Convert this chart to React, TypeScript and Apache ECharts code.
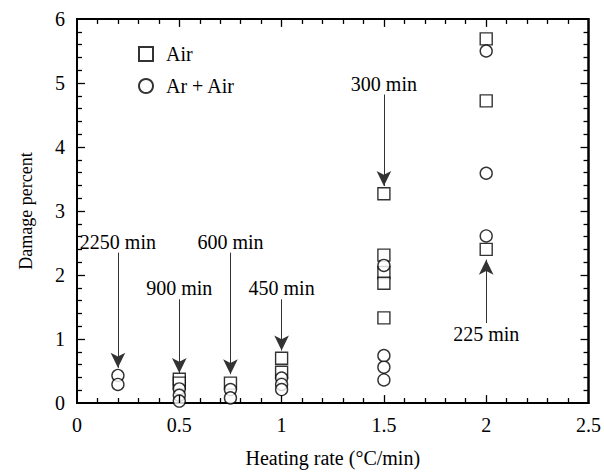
import React, { useEffect, useRef } from "react";
import * as echarts from "echarts";

const airX = [0.5, 0.5, 0.75, 1, 1, 1.5, 1.5, 1.5, 1.5, 1.5, 2, 2, 2];
const airY = [0.37, 0.31, 0.31, 0.7, 0.48, 3.27, 2.31, 2.04, 1.87, 1.33, 5.69, 4.72, 2.4];

const arAirX = [0.2, 0.2, 0.5, 0.5, 0.5, 0.75, 0.75, 1, 1, 1, 1.5, 1.5, 1.5, 1.5, 2, 2, 2];
const arAirY = [0.43, 0.29, 0.22, 0.12, 0.03, 0.21, 0.08, 0.39, 0.29, 0.21, 2.15, 0.74, 0.56, 0.36, 5.5, 3.59, 2.61];

const arrowLabels = ["2250 min", "900 min", "600 min", "450 min", "300 min", "225 min"];
const arrowX = [0.2, 0.5, 0.75, 1, 1.5, 2];
const arrowFrom = [2.35, 1.62, 2.35, 1.62, 4.82, 1.25];
const arrowTo = [0.55, 0.47, 0.45, 0.82, 3.39, 2.24];

const X_MIN = 0, X_MAX = 2.5, X_MAJOR = 0.5, X_MINOR_SPLIT = 5;
const Y_MIN = 0, Y_MAX = 6, Y_MAJOR = 1, Y_MINOR_SPLIT = 5;

const FONT = "Liberation Serif";

export default function App() {
  const ref = useRef<HTMLDivElement>(null);
  useEffect(() => {
    if (!ref.current) return;
    const chart = echarts.init(ref.current, null, { renderer: "svg" });
    const pair = (xs: number[], ys: number[]) => xs.map((x, i) => [x, ys[i]]);

    // tick marks as markLine segments (axis decoration derived from axis settings)
    const tickLines: any[] = [];
    const xSteps = Math.round(((X_MAX - X_MIN) / X_MAJOR) * X_MINOR_SPLIT);
    const ySteps = Math.round(((Y_MAX - Y_MIN) / Y_MAJOR) * Y_MINOR_SPLIT);
    const yLenMajor = ((Y_MAX - Y_MIN) * 8) / 388;
    const yLenMinor = ((Y_MAX - Y_MIN) * 5) / 388;
    const xLenMajor = ((X_MAX - X_MIN) * 8) / 514;
    const xLenMinor = ((X_MAX - X_MIN) * 5) / 514;
    for (let i = 1; i < xSteps; i++) {
      const v = X_MIN + (i * X_MAJOR) / X_MINOR_SPLIT;
      const len = i % X_MINOR_SPLIT === 0 ? yLenMajor : yLenMinor;
      tickLines.push([{ coord: [v, Y_MIN] }, { coord: [v, Y_MIN + len] }]);
      tickLines.push([{ coord: [v, Y_MAX] }, { coord: [v, Y_MAX - len] }]);
    }
    for (let i = 1; i < ySteps; i++) {
      const v = Y_MIN + (i * Y_MAJOR) / Y_MINOR_SPLIT;
      const len = i % Y_MINOR_SPLIT === 0 ? xLenMajor : xLenMinor;
      tickLines.push([{ coord: [X_MIN, v] }, { coord: [X_MIN + len, v] }]);
      tickLines.push([{ coord: [X_MAX, v] }, { coord: [X_MAX - len, v] }]);
    }

    const axisBase = {
      type: "value",
      axisLine: { show: true, onZero: false, lineStyle: { color: "#000", width: 2 } },
      axisTick: { show: false },
      splitLine: { show: false },
    };
    chart.setOption({
      animation: false,
      backgroundColor: "#fff",
      grid: {
        left: 77,
        right: 13,
        top: 19,
        bottom: 66,
        show: true,
        borderColor: "#000",
        borderWidth: 2,
        backgroundColor: "rgba(255,255,255,0)",
      },
      legend: {
        orient: "vertical",
        left: 133,
        top: 39,
        itemGap: 12,
        itemWidth: 14,
        itemHeight: 14,
        textStyle: { fontFamily: FONT, fontSize: 20, color: "#000", padding: [0, 0, 0, 8] },
        data: [
          { name: "Air", icon: "rect" },
          { name: "Ar + Air", icon: "circle" },
        ],
      },
      xAxis: {
        ...axisBase,
        min: X_MIN,
        max: X_MAX,
        interval: X_MAJOR,
        name: "Heating rate (°C/min)",
        nameLocation: "middle",
        nameGap: 45,
        nameTextStyle: { fontFamily: FONT, fontSize: 20, color: "#000" },
        axisLabel: { fontFamily: FONT, fontSize: 20, color: "#000", margin: 12 },
      },
      yAxis: {
        ...axisBase,
        min: Y_MIN,
        max: Y_MAX,
        interval: Y_MAJOR,
        name: "Damage percent",
        nameLocation: "middle",
        nameGap: 42,
        nameRotate: 90,
        nameTextStyle: { fontFamily: FONT, fontSize: 18, color: "#000" },
        axisLabel: { fontFamily: FONT, fontSize: 20, color: "#000", margin: 12 },
      },
      series: [
        {
          name: "frame",
          type: "scatter",
          data: [],
          silent: true,
          z: 1,
          markArea: {
            silent: true,
            itemStyle: { color: "rgba(0,0,0,0)", borderColor: "#000", borderWidth: 2 },
            label: { show: false },
            data: [[{ coord: [X_MIN, Y_MIN] }, { coord: [X_MAX, Y_MAX] }]],
          },
          markLine: {
            silent: true,
            symbol: ["none", "none"],
            lineStyle: { color: "#000", width: 1.3, type: "solid" },
            label: { show: false },
            data: tickLines,
          },
        },
        {
          name: "Air",
          type: "scatter",
          symbol: "rect",
          symbolSize: 12,
          itemStyle: { color: "#fff", borderColor: "#000", borderWidth: 1.4 },
          data: pair(airX, airY),
          z: 3,
        },
        {
          name: "Ar + Air",
          type: "scatter",
          symbol: "circle",
          symbolSize: 12,
          itemStyle: { color: "#fff", borderColor: "#000", borderWidth: 1.4 },
          data: pair(arAirX, arAirY),
          z: 4,
          markLine: {
            silent: true,
            symbol: ["none", "arrow"],
            symbolSize: [11, 15],
            lineStyle: { color: "#333", width: 1, type: "solid" },
            label: {
              show: true,
              position: "start",
              formatter: "{b}",
              fontFamily: FONT,
              fontSize: 20,
              color: "#000",
              distance: 1,
            },
            data: arrowLabels.map((name, i) => [
              { name, coord: [arrowX[i], arrowFrom[i]] },
              { coord: [arrowX[i], arrowTo[i]] },
            ]),
          },
        },
      ],
    });
    return () => chart.dispose();
  }, []);
  return (
    <div
      ref={ref}
      style={{ position: "fixed", left: 0, top: 0, width: 604, height: 473 }}
    />
  );
}
